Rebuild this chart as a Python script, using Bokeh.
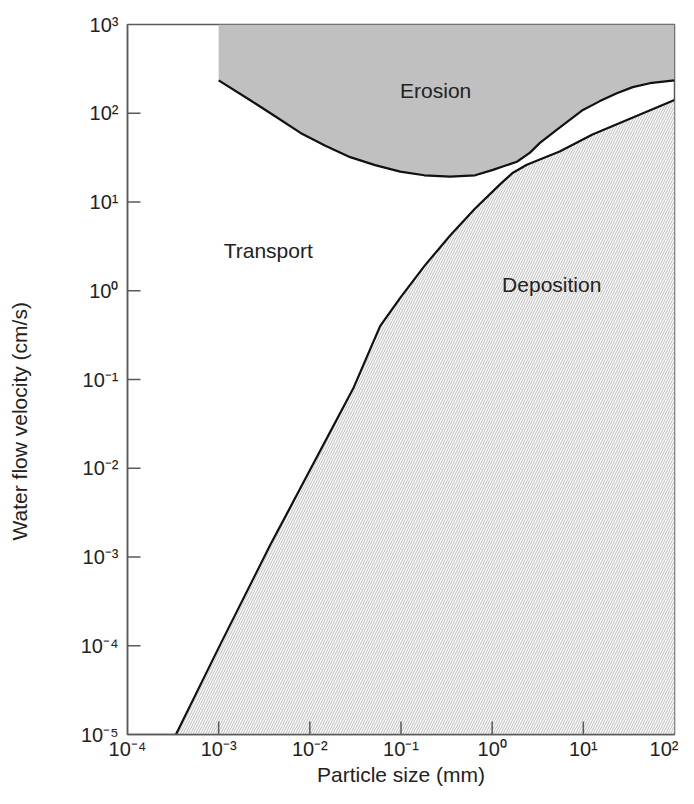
from bokeh.plotting import figure
from bokeh.models import Range1d, FixedTicker, Title
from bokeh.embed import file_html
from bokeh.resources import INLINE
from bokeh.core.properties import value

# ---- data -------------------------------------------------------------
x_ticks = [1e-4, 1e-3, 1e-2, 1e-1, 1e0, 1e1, 1e2]
x_tick_labels = ["10⁻⁴", "10⁻³", "10⁻²", "10⁻¹", "10⁰", "10¹", "10²"]
y_ticks = [1e-5, 1e-4, 1e-3, 1e-2, 1e-1, 1e0, 1e1, 1e2, 1e3]
y_tick_labels = ["10⁻⁵", "10⁻⁴", "10⁻³", "10⁻²", "10⁻¹", "10⁰", "10¹", "10²", "10³"]

# erosion threshold curve (particle size in mm, flow velocity in cm/s)
erosion_size = [0.001, 0.0022, 0.0042, 0.0079, 0.0148, 0.0277, 0.052, 0.098,
                0.18, 0.345, 0.65, 1.02, 1.38, 1.87, 2.6, 3.34, 5.1, 7.1,
                9.9, 15.2, 23.3, 34.8, 53.5, 100]
erosion_vel = [235, 141, 92, 60, 43, 32, 26, 22,
               20, 19.3, 20, 23, 25.6, 28.4, 36, 46.4, 65, 84,
               109, 137, 168, 197, 218, 235]

# deposition threshold curve
deposition_size = [0.00034, 0.00105, 0.0037, 0.0129, 0.0299, 0.059, 0.098,
                   0.183, 0.344, 0.646, 1.22, 1.69, 2.4, 5.5, 12.6, 100]
deposition_vel = [1e-5, 1.05e-4, 1.38e-3, 0.0155, 0.079, 0.40, 0.83,
                  1.93, 4.17, 8.4, 15.8, 21.4, 26.3, 37, 57.5, 141]

region_names = ["Erosion", "Transport", "Deposition"]
region_size = [0.24, 0.0035, 4.5]
region_vel = [182, 2.85, 1.19]

x_title = "Particle size (mm)"
y_title = "Water flow velocity (cm/s)"

x_min, x_max = 1e-4, 1e2
y_min, y_max = 1e-5, 1e3

FONT = "Liberation Sans"
AXIS_GREY = "#5a5a5a"
TEXT = "#222222"

# ---- figure -----------------------------------------------------------
p = figure(width=678, height=788,
           x_axis_type="log", y_axis_type="log",
           x_range=Range1d(x_min, x_max), y_range=Range1d(y_min, y_max),
           output_backend="svg", toolbar_location=None,
           min_border_left=126, min_border_right=4,
           min_border_top=24, min_border_bottom=51)

p.background_fill_color = "white"
p.border_fill_color = "white"
p.outline_line_color = AXIS_GREY
p.outline_line_width = 1.5
p.grid.visible = False

# erosion area (grey)
er_x = [erosion_size[0]] + erosion_size + [erosion_size[-1]]
er_y = [y_max] + erosion_vel + [y_max]
p.patch(er_x, er_y, fill_color="#c0c0c0", line_color=None)

# deposition area (hatched)
de_x = deposition_size + [deposition_size[-1]]
de_y = deposition_vel + [y_min]
p.patch(de_x, de_y, fill_color="#fafafa", line_color=None,
        hatch_pattern="/", hatch_color="#bdbdbd", hatch_scale=5,
        hatch_weight=1.0)

# boundary curves
p.line(erosion_size, erosion_vel, line_color="#111111", line_width=2.2)
p.line(deposition_size, deposition_vel, line_color="#111111", line_width=2.2)

# inward major tick marks (drawn from the tick lists)
inner_x = x_ticks[1:-1]
inner_y = y_ticks[1:-1]
p.ray(x=inner_x, y=[y_min] * len(inner_x), length=13, length_units="screen",
      angle=90, angle_units="deg", line_color=AXIS_GREY, line_width=1.5)
p.ray(x=[x_min] * len(inner_y), y=inner_y, length=13, length_units="screen",
      angle=0, angle_units="deg", line_color=AXIS_GREY, line_width=1.5)

# region labels
p.text(region_size, region_vel, text=region_names,
       text_font=value(FONT), text_font_size="21px",
       text_color=TEXT, text_align="center", text_baseline="middle")

# axes
for ax, ticks, labels in ((p.xaxis[0], x_ticks, x_tick_labels),
                          (p.yaxis[0], y_ticks, y_tick_labels)):
    ax.ticker = FixedTicker(ticks=ticks)
    ax.major_label_overrides = {t: l for t, l in zip(ticks, labels)}
    ax.minor_tick_line_color = None
    ax.major_tick_line_color = None
    ax.major_tick_in = 0
    ax.major_tick_out = 0
    ax.axis_line_color = AXIS_GREY
    ax.axis_line_width = 1.5
    ax.major_label_text_font = FONT
    ax.major_label_text_font_size = "20px"
    ax.major_label_text_color = TEXT
    ax.axis_label_text_font = FONT
    ax.axis_label_text_font_size = "21px"
    ax.axis_label_text_font_style = "normal"
    ax.axis_label_text_color = TEXT

p.xaxis.major_label_standoff = 3
p.xaxis.axis_label = x_title
p.xaxis.axis_label_standoff = 0

p.yaxis.major_label_standoff = 9
p.yaxis.axis_label = " "          # spacer, the title sits further out
p.yaxis.axis_label_standoff = 16

p.add_layout(Title(text=y_title, align="left", offset=194,
                   text_font=FONT, text_font_size="21px",
                   text_font_style="normal", text_color=TEXT), "left")

open("out.html", "w").write(file_html(p, INLINE))
